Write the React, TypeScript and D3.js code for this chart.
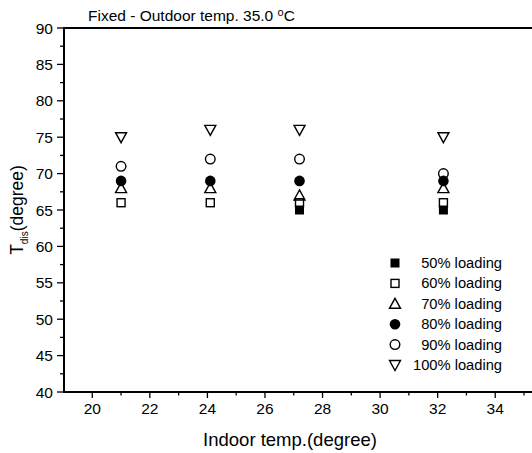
import React from "react";
import * as d3 from "d3";

const xValues = [21, 24.1, 27.2, 32.2];
const s50 = [null, null, 65, 65];
const s60 = [66, 66, 66, 66];
const s70 = [68, 68, 67, 68];
const s80 = [69, 69, 69, 69];
const s90 = [71, 72, 72, 70];
const s100 = [75, 76, 76, 75];
const seriesNames = ["50% loading", "60% loading", "70% loading", "80% loading", "90% loading", "100% loading"];
const xTicks = [20, 22, 24, 26, 28, 30, 32, 34];
const yTicks = [40, 45, 50, 55, 60, 65, 70, 75, 80, 85, 90];

const W = 532, H = 453;
const left = 64, top = 28, bottom = 392;
const x = d3.scaleLinear().domain([19, 35]).range([63.5, 524]);
const y = d3.scaleLinear().domain([40, 90]).range([bottom, top]);
const font = "'Liberation Sans', Arial, sans-serif";

type Kind = "fsq" | "osq" | "tri" | "fcirc" | "ocirc" | "itri";
const kinds: Kind[] = ["fsq", "osq", "tri", "fcirc", "ocirc", "itri"];

function Marker({ kind, cx, cy }: { kind: Kind; cx: number; cy: number }) {
  const sw = 1.4;
  switch (kind) {
    case "fsq":
      return <rect x={cx - 4.5} y={cy - 4.5} width={9} height={9} fill="#000" />;
    case "osq":
      return <rect x={cx - 4} y={cy - 4} width={8} height={8} fill="none" stroke="#000" strokeWidth={sw} />;
    case "tri":
      return <path d={`M${cx},${cy - 5.5}L${cx + 5.5},${cy + 4.5}L${cx - 5.5},${cy + 4.5}Z`} fill="none" stroke="#000" strokeWidth={sw} />;
    case "itri":
      return <path d={`M${cx},${cy + 5.5}L${cx + 5.5},${cy - 4.5}L${cx - 5.5},${cy - 4.5}Z`} fill="none" stroke="#000" strokeWidth={sw} />;
    case "fcirc":
      return <circle cx={cx} cy={cy} r={5.3} fill="#000" />;
    case "ocirc":
      return <circle cx={cx} cy={cy} r={4.8} fill="none" stroke="#000" strokeWidth={sw} />;
  }
}

export default function App() {
  const series = [s50, s60, s70, s80, s90, s100];
  const xMinor = d3.range(20, 36, 1);
  const yMinor = d3.range(40, 90.1, 2.5);
  return (
    <svg width={W} height={H} style={{ position: "absolute", left: 0, top: 0, background: "#fff" }} fontFamily={font}>
      <rect width={W} height={H} fill="#fff" />
      <line x1={left} y1={top} x2={W} y2={top} stroke="#000" strokeWidth={2} />
      <line x1={left} y1={top - 1} x2={left} y2={bottom + 1} stroke="#000" strokeWidth={2} />
      <line x1={left - 1} y1={bottom} x2={W} y2={bottom} stroke="#000" strokeWidth={2} />
      {xMinor.map((v) => (
        <line key={"xm" + v} x1={x(v)} x2={x(v)} y1={bottom} y2={bottom + (v % 2 === 0 ? 6 : 3.5)} stroke="#000" strokeWidth={1.3} />
      ))}
      {xTicks.map((v) => (
        <text key={"xt" + v} x={x(v)} y={414} textAnchor="middle" fontSize={15.5}>{v}</text>
      ))}
      {yMinor.map((v) => (
        <line key={"ym" + v} x1={left - (v % 5 === 0 ? 7 : 4)} x2={left} y1={y(v)} y2={y(v)} stroke="#000" strokeWidth={1.3} />
      ))}
      {yTicks.map((v) => (
        <text key={"yt" + v} x={53} y={y(v) + 5.5} textAnchor="end" fontSize={15.5}>{v}</text>
      ))}
      <text x={88} y={21} fontSize={15.5}>Fixed - Outdoor temp. 35.0 <tspan fontSize={11} dy={-5}>o</tspan><tspan dy={5}>C</tspan></text>
      <text x={290} y={446} textAnchor="middle" fontSize={18.5}>Indoor temp.(degree)</text>
      <text transform={`translate(23,210) rotate(-90)`} textAnchor="middle" fontSize={17.5}>
        T<tspan fontSize={10} dy={5}>dis</tspan><tspan dy={-5}>(degree)</tspan>
      </text>
      {series.map((s, i) =>
        s.map((v, j) => (v == null ? null : <Marker key={i + "-" + j} kind={kinds[i]} cx={x(xValues[j])} cy={y(v)} />))
      )}
      {seriesNames.map((n, i) => (
        <g key={n}>
          <Marker kind={kinds[i]} cx={395} cy={263 + i * 20.4} />
          <text x={502} y={263 + i * 20.4 + 5} textAnchor="end" fontSize={14.7}>{n}</text>
        </g>
      ))}
    </svg>
  );
}
